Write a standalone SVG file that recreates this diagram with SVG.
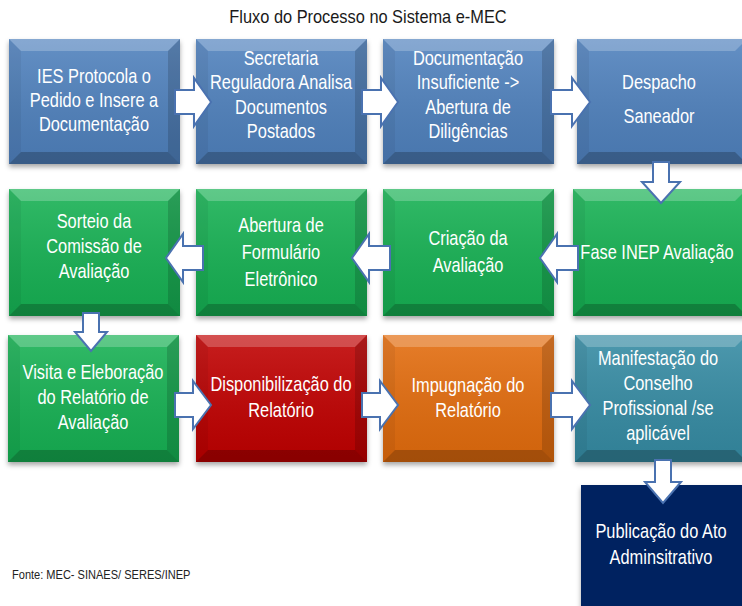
<svg xmlns="http://www.w3.org/2000/svg" width="742" height="606" viewBox="0 0 742 606">
<defs>
<filter id="sh" x="-10%" y="-10%" width="120%" height="125%">
<feDropShadow dx="0" dy="3" stdDeviation="2.5" flood-color="#000" flood-opacity="0.35"/>
</filter>
<linearGradient id="gl" x1="0" y1="0" x2="0" y2="1">
<stop offset="0" stop-color="#fff" stop-opacity="0.12"/>
<stop offset="1" stop-color="#000" stop-opacity="0.08"/>
</linearGradient>
<style>
.title{font-family:"Liberation Sans",Arial,sans-serif;font-size:18px;fill:#1a1a1a;text-anchor:middle}
.t{font-family:"Liberation Sans",Arial,sans-serif;font-size:20px;fill:#fff;text-anchor:middle}
.src{font-family:"Liberation Sans",Arial,sans-serif;font-size:13px;fill:#222}
.box{filter:url(#sh)}
.g{fill:url(#gl)}
.bt{fill:#fff;fill-opacity:0.22}
.bl{fill:#000;fill-opacity:0.05}
.br{fill:#000;fill-opacity:0.15}
.bb{fill:#000;fill-opacity:0.22}
.blue{fill:#4F81BD}
.green{fill:#17B152}
.red{fill:#C00000}
.orange{fill:#E36C09}
.teal{fill:#358BA3}
.navy{fill:#002060}
.arr{fill:#fff;stroke:#4A72B0;stroke-width:2;stroke-linejoin:miter}
</style>
</defs>
<rect width="742" height="606" fill="#fff"/>
<text class="title" transform="translate(368 23) scale(0.91 1)">Fluxo do Processo no Sistema e-MEC</text>

<g id="n1">
<rect class="box blue" x="9" y="39" width="171" height="125"/>
<rect class="g" x="9" y="39" width="171" height="125"/>
<polygon class="bt" points="9,39 180,39 168,51 21,51"/>
<polygon class="bl" points="9,39 21,51 21,152 9,164"/>
<polygon class="br" points="180,39 180,164 168,152 168,51"/>
<polygon class="bb" points="9,164 21,152 168,152 180,164"/>
<text class="t" transform="translate(94 83) scale(0.82 1)">IES Protocola o</text>
<text class="t" transform="translate(94 107) scale(0.82 1)">Pedido e Insere a</text>
<text class="t" transform="translate(94 131) scale(0.82 1)">Documentação</text>
</g>
<g id="n2">
<rect class="box blue" x="196" y="39" width="171" height="125"/>
<rect class="g" x="196" y="39" width="171" height="125"/>
<polygon class="bt" points="196,39 367,39 355,51 208,51"/>
<polygon class="bl" points="196,39 208,51 208,152 196,164"/>
<polygon class="br" points="367,39 367,164 355,152 355,51"/>
<polygon class="bb" points="196,164 208,152 355,152 367,164"/>
<text class="t" transform="translate(281 65) scale(0.82 1)">Secretaria</text>
<text class="t" transform="translate(281 89) scale(0.82 1)">Reguladora Analisa</text>
<text class="t" transform="translate(281 114) scale(0.82 1)">Documentos</text>
<text class="t" transform="translate(281 138) scale(0.82 1)">Postados</text>
</g>
<g id="n3">
<rect class="box blue" x="383" y="39" width="171" height="125"/>
<rect class="g" x="383" y="39" width="171" height="125"/>
<polygon class="bt" points="383,39 554,39 542,51 395,51"/>
<polygon class="bl" points="383,39 395,51 395,152 383,164"/>
<polygon class="br" points="554,39 554,164 542,152 542,51"/>
<polygon class="bb" points="383,164 395,152 542,152 554,164"/>
<text class="t" transform="translate(468 65) scale(0.82 1)">Documentação</text>
<text class="t" transform="translate(468 89) scale(0.82 1)">Insuficiente -&gt;</text>
<text class="t" transform="translate(468 114) scale(0.82 1)">Abertura de</text>
<text class="t" transform="translate(468 138) scale(0.82 1)">Diligências</text>
</g>
<g id="n4">
<rect class="box blue" x="577" y="39" width="170" height="125"/>
<rect class="g" x="577" y="39" width="170" height="125"/>
<polygon class="bt" points="577,39 747,39 735,51 589,51"/>
<polygon class="bl" points="577,39 589,51 589,152 577,164"/>
<polygon class="bb" points="577,164 589,152 735,152 747,164"/>
<text class="t" transform="translate(659 89) scale(0.82 1)">Despacho</text>
<text class="t" transform="translate(659 123) scale(0.82 1)">Saneador</text>
</g>

<g id="n5">
<rect class="box green" x="9" y="189" width="171" height="127"/>
<rect class="g" x="9" y="189" width="171" height="127"/>
<polygon class="bt" points="9,189 180,189 168,201 21,201"/>
<polygon class="bl" points="9,189 21,201 21,304 9,316"/>
<polygon class="br" points="180,189 180,316 168,304 168,201"/>
<polygon class="bb" points="9,316 21,304 168,304 180,316"/>
<text class="t" transform="translate(94 228) scale(0.82 1)">Sorteio da</text>
<text class="t" transform="translate(94 253) scale(0.82 1)">Comissão de</text>
<text class="t" transform="translate(94 278) scale(0.82 1)">Avaliação</text>
</g>
<g id="n6">
<rect class="box green" x="196" y="189" width="171" height="127"/>
<rect class="g" x="196" y="189" width="171" height="127"/>
<polygon class="bt" points="196,189 367,189 355,201 208,201"/>
<polygon class="bl" points="196,189 208,201 208,304 196,316"/>
<polygon class="br" points="367,189 367,316 355,304 355,201"/>
<polygon class="bb" points="196,316 208,304 355,304 367,316"/>
<text class="t" transform="translate(281 232) scale(0.82 1)">Abertura de</text>
<text class="t" transform="translate(281 259) scale(0.82 1)">Formulário</text>
<text class="t" transform="translate(281 286) scale(0.82 1)">Eletrônico</text>
</g>
<g id="n7">
<rect class="box green" x="383" y="189" width="171" height="127"/>
<rect class="g" x="383" y="189" width="171" height="127"/>
<polygon class="bt" points="383,189 554,189 542,201 395,201"/>
<polygon class="bl" points="383,189 395,201 395,304 383,316"/>
<polygon class="br" points="554,189 554,316 542,304 542,201"/>
<polygon class="bb" points="383,316 395,304 542,304 554,316"/>
<text class="t" transform="translate(468 245) scale(0.82 1)">Criação da</text>
<text class="t" transform="translate(468 272) scale(0.82 1)">Avaliação</text>
</g>
<g id="n8">
<rect class="box green" x="573" y="189" width="174" height="127"/>
<rect class="g" x="573" y="189" width="174" height="127"/>
<polygon class="bt" points="573,189 747,189 735,201 585,201"/>
<polygon class="bl" points="573,189 585,201 585,304 573,316"/>
<polygon class="bb" points="573,316 585,304 735,304 747,316"/>
<text class="t" transform="translate(657 259) scale(0.82 1)">Fase INEP Avaliação</text>
</g>

<g id="n9">
<rect class="box green" x="8" y="335" width="171" height="127"/>
<rect class="g" x="8" y="335" width="171" height="127"/>
<polygon class="bt" points="8,335 179,335 167,347 20,347"/>
<polygon class="bl" points="8,335 20,347 20,450 8,462"/>
<polygon class="br" points="179,335 179,462 167,450 167,347"/>
<polygon class="bb" points="8,462 20,450 167,450 179,462"/>
<text class="t" transform="translate(93 379) scale(0.82 1)">Visita e Eleboração</text>
<text class="t" transform="translate(93 404) scale(0.82 1)">do Relatório de</text>
<text class="t" transform="translate(93 429) scale(0.82 1)">Avaliação</text>
</g>
<g id="n10">
<rect class="box red" x="196" y="335" width="171" height="127"/>
<rect class="g" x="196" y="335" width="171" height="127"/>
<polygon class="bt" points="196,335 367,335 355,347 208,347"/>
<polygon class="bl" points="196,335 208,347 208,450 196,462"/>
<polygon class="br" points="367,335 367,462 355,450 355,347"/>
<polygon class="bb" points="196,462 208,450 355,450 367,462"/>
<text class="t" transform="translate(281 391) scale(0.82 1)">Disponibilização do</text>
<text class="t" transform="translate(281 417) scale(0.82 1)">Relatório</text>
</g>
<g id="n11">
<rect class="box orange" x="383" y="335" width="171" height="127"/>
<rect class="g" x="383" y="335" width="171" height="127"/>
<polygon class="bt" points="383,335 554,335 542,347 395,347"/>
<polygon class="bl" points="383,335 395,347 395,450 383,462"/>
<polygon class="br" points="554,335 554,462 542,450 542,347"/>
<polygon class="bb" points="383,462 395,450 542,450 554,462"/>
<text class="t" transform="translate(468 392) scale(0.82 1)">Impugnação do</text>
<text class="t" transform="translate(468 417) scale(0.82 1)">Relatório</text>
</g>
<g id="n12">
<rect class="box teal" x="575" y="335" width="172" height="127"/>
<rect class="g" x="575" y="335" width="172" height="127"/>
<polygon class="bt" points="575,335 747,335 735,347 587,347"/>
<polygon class="bl" points="575,335 587,347 587,450 575,462"/>
<polygon class="bb" points="575,462 587,450 735,450 747,462"/>
<text class="t" transform="translate(658 365) scale(0.82 1)">Manifestação do</text>
<text class="t" transform="translate(658 390) scale(0.82 1)">Conselho</text>
<text class="t" transform="translate(658 415) scale(0.82 1)">Profissional /se</text>
<text class="t" transform="translate(658 440) scale(0.82 1)">aplicável</text>
</g>

<g id="n13">
<rect class="box navy" x="581" y="485" width="166" height="130"/>
<text class="t" transform="translate(661 538) scale(0.82 1)">Publicação do Ato</text>
<text class="t" transform="translate(661 564) scale(0.82 1)">Adminsitrativo</text>
</g>

<g id="connectors">
<path class="arr" d="M175 90 H194 V78 L211 102 L194 126 V114 H175 Z"/>
<path class="arr" d="M362 90 H381 V78 L398 102 L381 126 V114 H362 Z"/>
<path class="arr" d="M551 90 H572 V78 L590 102 L572 126 V114 H551 Z"/>
<path class="arr" d="M653 162 V182 H642 L661 203 L680 182 H669 V162 Z"/>
<path class="arr" d="M578 246 H557 V234 L540 258 L557 282 V270 H578 Z"/>
<path class="arr" d="M390 246 H369 V234 L352 258 L369 282 V270 H390 Z"/>
<path class="arr" d="M203 246 H183 V234 L166 258 L183 282 V270 H203 Z"/>
<path class="arr" d="M83 313 V332 H75 L91 351 L107 332 H99 V313 Z"/>
<path class="arr" d="M175 393 H193 V381 L211 405 L193 429 V417 H175 Z"/>
<path class="arr" d="M362 393 H380 V381 L398 405 L380 429 V417 H362 Z"/>
<path class="arr" d="M551 393 H572 V381 L590 405 L572 429 V417 H551 Z"/>
<path class="arr" d="M655 460 V482 H645 L663 503 L681 482 H671 V460 Z"/>
</g>

<text class="src" transform="translate(12 579) scale(0.85 1)">Fonte: MEC- SINAES/ SERES/INEP</text>
</svg>
